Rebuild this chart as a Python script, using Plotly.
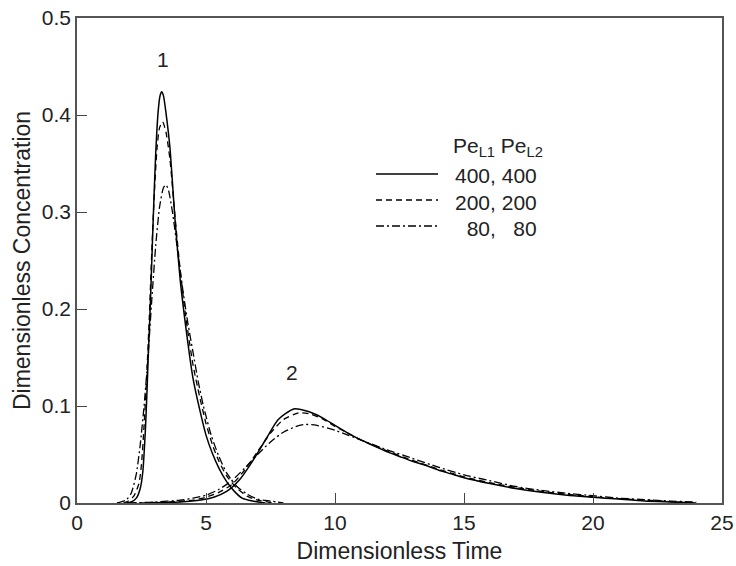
import plotly.graph_objects as go

# ---- Peak 1 data (Pe_L1 = Pe_L2 values) ----
t1_400 = [1.9, 2.1, 2.3, 2.45, 2.55, 2.65, 2.72, 2.76, 2.85, 2.95, 3.05, 3.15, 3.22, 3.28, 3.35, 3.45, 3.6, 3.8, 4.0, 4.2, 4.5, 4.75, 5.0, 5.25, 5.5, 5.8, 6.1, 6.4, 6.8, 7.3]
c1_400 = [0.0, 0.001, 0.005, 0.015, 0.032, 0.075, 0.12, 0.15, 0.21, 0.29, 0.36, 0.405, 0.42, 0.424, 0.42, 0.402, 0.367, 0.292, 0.23, 0.185, 0.128, 0.097, 0.07, 0.051, 0.036, 0.022, 0.012, 0.005, 0.002, 0.0]

t1_200 = [1.8, 2.0, 2.2, 2.4, 2.5, 2.6, 2.7, 2.8, 2.9, 3.0, 3.1, 3.2, 3.32, 3.45, 3.6, 3.8, 4.0, 4.2, 4.5, 4.75, 5.0, 5.25, 5.5, 5.8, 6.2, 6.6, 7.0, 7.6]
c1_200 = [0.0, 0.002, 0.007, 0.02, 0.04, 0.08, 0.13, 0.19, 0.26, 0.32, 0.365, 0.387, 0.393, 0.382, 0.355, 0.295, 0.24, 0.195, 0.142, 0.11, 0.082, 0.06, 0.043, 0.028, 0.015, 0.007, 0.003, 0.0]

t1_80 = [1.55, 1.9, 2.1, 2.3, 2.45, 2.6, 2.75, 2.9, 3.05, 3.2, 3.35, 3.45, 3.55, 3.7, 3.9, 4.1, 4.3, 4.5, 4.7, 4.9, 5.2, 5.5, 5.8, 6.2, 6.6, 7.0, 7.5, 8.0]
c1_80 = [0.0, 0.003, 0.01, 0.03, 0.06, 0.1, 0.15, 0.21, 0.265, 0.305, 0.325, 0.328, 0.322, 0.3, 0.26, 0.22, 0.185, 0.155, 0.125, 0.1, 0.07, 0.048, 0.031, 0.017, 0.009, 0.004, 0.002, 0.0]

# ---- Peak 2 data ----
t2_400 = [2.7, 4.0, 4.8, 5.3, 5.8, 6.3, 6.8, 7.35, 7.8, 8.4, 9.0, 9.5, 10.0, 10.5, 11.0, 11.5, 12.0, 12.5, 13.0, 13.5, 14.0, 14.5, 15.0, 16.0, 17.0, 18.0, 19.0, 20.0, 21.0, 22.0, 23.0, 24.0]
c2_400 = [0.0, 0.001, 0.003, 0.006, 0.012, 0.024, 0.043, 0.067, 0.086, 0.097, 0.094, 0.088, 0.08, 0.072, 0.065, 0.059, 0.053, 0.048, 0.043, 0.039, 0.034, 0.03, 0.026, 0.02, 0.015, 0.011, 0.008, 0.006, 0.004, 0.002, 0.001, 0.0]

t2_200 = [2.4, 3.5, 4.5, 5.0, 5.5, 6.0, 6.5, 7.0, 7.5, 8.0, 8.6, 9.0, 9.5, 10.0, 10.5, 11.0, 12.0, 13.0, 14.0, 15.0, 16.0, 17.0, 18.0, 19.0, 20.0, 21.0, 22.0, 23.0, 24.0]
c2_200 = [0.0, 0.001, 0.003, 0.006, 0.011, 0.019, 0.034, 0.053, 0.072, 0.086, 0.093, 0.092, 0.087, 0.079, 0.072, 0.065, 0.054, 0.044, 0.035, 0.027, 0.021, 0.016, 0.012, 0.009, 0.0065, 0.0045, 0.003, 0.0015, 0.0]

t2_80 = [2.0, 3.0, 4.0, 4.5, 5.0, 5.5, 6.0, 6.5, 7.0, 7.5, 8.0, 8.5, 8.85, 9.3, 10.0, 10.5, 11.0, 12.0, 13.0, 14.0, 15.0, 16.0, 17.0, 18.0, 19.0, 20.0, 21.0, 22.0, 23.0, 24.0]
c2_80 = [0.0, 0.001, 0.003, 0.005, 0.008, 0.014, 0.023, 0.036, 0.05, 0.063, 0.073, 0.079, 0.081, 0.08, 0.075, 0.07, 0.065, 0.055, 0.046, 0.037, 0.029, 0.023, 0.017, 0.013, 0.01, 0.0075, 0.005, 0.0035, 0.002, 0.001]

legend_labels = ["400, 400", "200, 200", "&nbsp;&nbsp;80,&nbsp;&nbsp;&nbsp;80"]
x_ticks = [0, 5, 10, 15, 20, 25]
y_ticks = [0, 0.1, 0.2, 0.3, 0.4, 0.5]

FONT = "Liberation Sans, Arial, sans-serif"
TXT = "#222"
styles = [dict(color="black", width=1.5, dash="solid"),
          dict(color="black", width=1.3, dash="6px,4px"),
          dict(color="black", width=1.3, dash="8px,3px,2px,3px")]

fig = go.Figure()
series = [(t1_400, c1_400, 0), (t1_200, c1_200, 1), (t1_80, c1_80, 2),
          (t2_400, c2_400, 0), (t2_200, c2_200, 1), (t2_80, c2_80, 2)]
for t, c, s in series:
    fig.add_trace(go.Scatter(x=t, y=c, mode="lines", line=dict(shape="spline", smoothing=0.6, **styles[s]),
                             showlegend=False, hoverinfo="skip"))

# peak labels
fig.add_annotation(x=3.35, y=0.457, text="1", showarrow=False, font=dict(family=FONT, size=21, color=TXT))
fig.add_annotation(x=8.35, y=0.135, text="2", showarrow=False, font=dict(family=FONT, size=21, color=TXT))

# manual legend (paper coordinates)
L, R, T, B = 77, 722, 18, 503
def px(x):
    return (x - L) / (R - L)
def py(y):
    return (B - y) / (B - T)

fig.add_annotation(xref="paper", yref="paper", x=px(451), y=py(147), xanchor="left", yanchor="middle",
                   text="Pe<sub>L1</sub> Pe<sub>L2</sub>", showarrow=False,
                   font=dict(family=FONT, size=21, color=TXT))
rows = [174, 200, 226]
for i, (lab, yy) in enumerate(zip(legend_labels, rows)):
    st = styles[i]
    fig.add_shape(type="line", xref="paper", yref="paper", x0=px(376), x1=px(438), y0=py(yy), y1=py(yy),
                  line=dict(color=st["color"], width=st["width"], dash=st["dash"]))
    fig.add_annotation(xref="paper", yref="paper", x=px(453), y=py(yy + 2), xanchor="left", yanchor="middle",
                       text=lab, showarrow=False, font=dict(family=FONT, size=21, color=TXT))

axis_common = dict(showgrid=False, zeroline=False, showline=True, linecolor="#555", linewidth=1.6,
                   mirror=True, ticks="inside", ticklen=10, tickwidth=1.2, tickcolor="#444",
                   automargin=False, tickfont=dict(family=FONT, size=21, color=TXT))
fig.update_xaxes(range=[0, 25], tickvals=x_ticks, ticktext=[str(v) for v in x_ticks],
                 title=dict(text="Dimensionless Time", font=dict(family=FONT, size=23, color=TXT), standoff=10),
                 **axis_common)
fig.update_yaxes(range=[0, 0.5], tickvals=y_ticks, ticktext=["0", "0.1", "0.2", "0.3", "0.4", "0.5"],
                 title=dict(text="Dimensionless Concentration", font=dict(family=FONT, size=23, color=TXT), standoff=5),
                 **axis_common)
fig.update_layout(width=736, height=566, margin=dict(l=77, r=14, t=18, b=63),
                  plot_bgcolor="white", paper_bgcolor="white", showlegend=False)
fig.write_html("out.html")
